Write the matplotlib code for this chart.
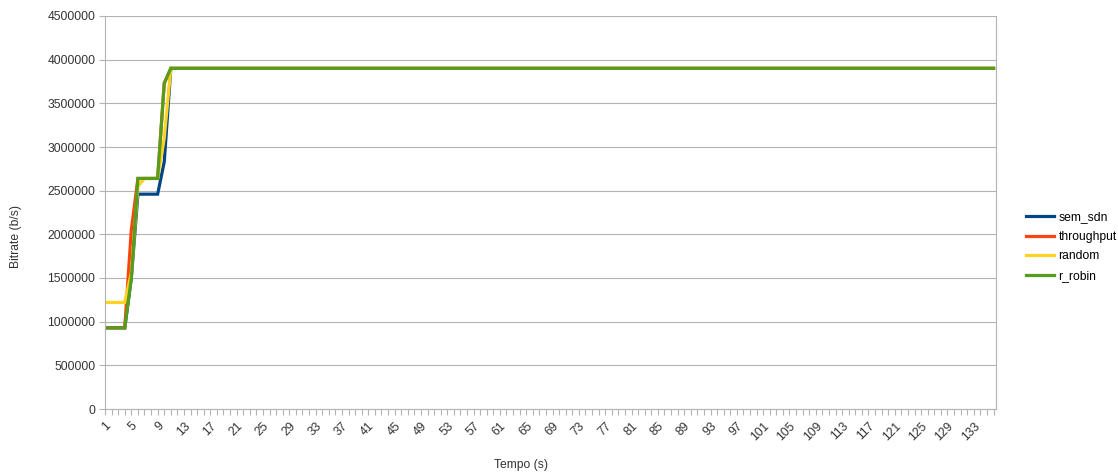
import numpy as np
import matplotlib
matplotlib.use('Agg')
import matplotlib.pyplot as plt

plt.rcParams['font.family'] = ['Liberation Sans', 'DejaVu Sans']

# tempo (s) 1..136
tempo = np.arange(1, 137)
plateau = [3900000] * 125  # flat part from t=12 onwards

sem_sdn = [930000, 930000, 930000, 930000, 1500000, 2460000, 2460000, 2460000, 2460000, 2830000, 3900000] + plateau
throughput = [930000, 930000, 930000, 930000, 2050000, 2640000, 2640000, 2640000, 2640000, 3730000, 3900000] + plateau
random = [1220000, 1220000, 1220000, 1220000, 1560000, 2550000, 2640000, 2640000, 2640000, 3100000, 3900000] + plateau
r_robin = [930000, 930000, 930000, 930000, 1500000, 2640000, 2640000, 2640000, 2640000, 3730000, 3900000] + plateau

labels = ['sem_sdn', 'throughput', 'random', 'r_robin']
colors = ['#004586', '#ff420e', '#ffd320', '#579d1c']
series = [sem_sdn, throughput, random, r_robin]

fig = plt.figure(figsize=(11.18, 4.72), dpi=100)
ax = fig.add_axes([105 / 1118, 63 / 472, 890.5 / 1118, 393 / 472])

for s, lab, c in zip(series, labels, colors):
    ax.plot(tempo, s, color=c, lw=2.3, label=lab, solid_joinstyle='miter')

grid_c = '#b3b3b3'
ax.set_xlim(1, 136.3)
ax.set_ylim(0, 4500000)
ax.set_yticks(np.arange(0, 4500001, 500000))
ax.set_yticklabels([str(v) for v in range(0, 4500001, 500000)], fontsize=8.7, color='#333333')
ax.yaxis.grid(True, color=grid_c, lw=0.8)
ax.set_axisbelow(True)

ax.set_xticks(tempo, minor=True)
ax.set_xticks(tempo[::4])
ax.set_xticklabels([str(t) for t in tempo[::4]], rotation=45, ha='right', va='top',
                   rotation_mode='anchor', fontsize=8.7, color='#333333')
ax.tick_params(axis='x', which='both', length=4, color=grid_c, width=0.8, pad=4)
ax.tick_params(axis='y', length=4, color=grid_c, width=0.8, pad=3)

for side in ['left', 'bottom', 'right']:
    ax.spines[side].set_color(grid_c)
    ax.spines[side].set_linewidth(0.8)
ax.spines['top'].set_visible(False)

fig.text(16 / 1118, 1 - 236 / 472, 'Bitrate (b/s)', rotation=90, ha='center', va='center', fontsize=8.7, color='#333333')
fig.text(521 / 1118, 1 - 465 / 472, 'Tempo (s)', ha='center', va='center', fontsize=8.7, color='#333333')

fig.legend(loc='center left', bbox_to_anchor=(1021 / 1118, 1 - 246.5 / 472), frameon=False,
           fontsize=8.7, handlelength=2.3, handletextpad=0.4, labelspacing=0.62, borderaxespad=0)

fig.savefig('out.png', dpi=100)
